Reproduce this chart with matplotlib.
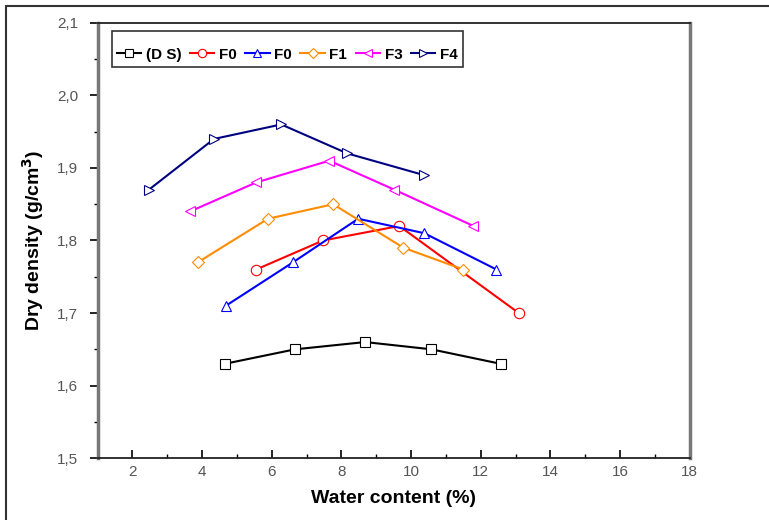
import matplotlib
matplotlib.use('Agg')
import matplotlib.pyplot as plt
from matplotlib.patches import Rectangle

plt.rcParams['font.family'] = ['Liberation Sans', 'DejaVu Sans']

# données
labels = ['(D S)', 'F0', 'F0', 'F1', 'F3', 'F4']
colors = ['black', 'red', 'blue', 'darkorange', 'magenta', 'navy']
markers = ['s', 'o', '^', 'D', '<', '>']

x_ds = [4.65, 6.67, 8.68, 10.58, 12.57]
y_ds = [1.63, 1.65, 1.66, 1.65, 1.63]
x_f0r = [5.55, 7.47, 9.66, 13.09]
y_f0r = [1.76, 1.80, 1.82, 1.70]
x_f0b = [4.68, 6.61, 8.48, 10.38, 12.45]
y_f0b = [1.71, 1.77, 1.83, 1.81, 1.76]
x_f1 = [3.88, 5.89, 7.76, 9.78, 11.5]
y_f1 = [1.77, 1.83, 1.85, 1.79, 1.76]
x_f3 = [3.65, 5.55, 7.65, 9.52, 11.79]
y_f3 = [1.84, 1.88, 1.91, 1.87, 1.82]
x_f4 = [2.47, 4.34, 6.27, 8.17, 10.38]
y_f4 = [1.87, 1.94, 1.96, 1.92, 1.89]

xs = [x_ds, x_f0r, x_f0b, x_f1, x_f3, x_f4]
ys = [y_ds, y_f0r, y_f0b, y_f1, y_f3, y_f4]

fig = plt.figure(figsize=(7.69, 5.2), dpi=100)
ax = fig.add_axes([0.127, 0.119, 0.770, 0.837])

for x, y, c, m, lab in zip(xs, ys, colors, markers, labels):
    ms = 6.5 if m == 'D' else 7.5
    ax.plot(x, y, color=c, marker=m, markersize=ms, markerfacecolor='white',
            markeredgecolor=c, markeredgewidth=0.8, linewidth=1.5, label=lab)

ax.set_xlim(1, 18)
ax.set_ylim(1.5, 2.1)
ax.set_xticks(range(2, 19, 2))
ax.set_xticks(range(1, 19, 2), minor=True)
yt = [1.5, 1.6, 1.7, 1.8, 1.9, 2.0, 2.1]
ax.set_yticks(yt)
ax.set_yticklabels([('%.1f' % v).replace('.', ',') for v in yt])
ax.set_yticks([1.55, 1.65, 1.75, 1.85, 1.95, 2.05], minor=True)

ax.tick_params(axis='x', direction='in', length=6, width=1.2, labelsize=11,
               labelcolor='#555555', pad=5)
ax.tick_params(axis='x', which='minor', direction='in', length=3, width=1)
ax.tick_params(axis='y', direction='out', length=6, width=1.2, labelsize=11,
               labelcolor='#555555', pad=8)
ax.tick_params(axis='y', which='minor', direction='out', length=3, width=1)

for s in ['left', 'right']:
    ax.spines[s].set_linewidth(2.5)
    ax.spines[s].set_color('#777777')
for s in ['top', 'bottom']:
    ax.spines[s].set_linewidth(1.3)
    ax.spines[s].set_color('#222222')

ax.set_xlabel('Water content (%)', fontsize=14, fontweight='bold', labelpad=8)
ax.set_ylabel('Dry density (g/cm$^\\mathbf{3}$)', fontsize=14, fontweight='bold', labelpad=8)

leg = ax.legend(loc='upper left', bbox_to_anchor=(0.0236, 0.982), ncol=6,
                borderaxespad=0, title=' ', title_fontsize=3,
                handlelength=1.6, handletextpad=0.3, columnspacing=0.55,
                borderpad=0.35, fancybox=False, edgecolor='black', markerscale=0.8,
                prop={'weight': 'bold', 'size': 11})
leg.get_frame().set_linewidth(1.2)

# cadre autour de la figure
fig.patches.append(Rectangle((6 / 769, -0.1), 1.1, 1.1 - 6 / 520, transform=fig.transFigure,
                             fill=False, edgecolor='#333333', linewidth=1.5))

fig.savefig('out.png', dpi=100)
